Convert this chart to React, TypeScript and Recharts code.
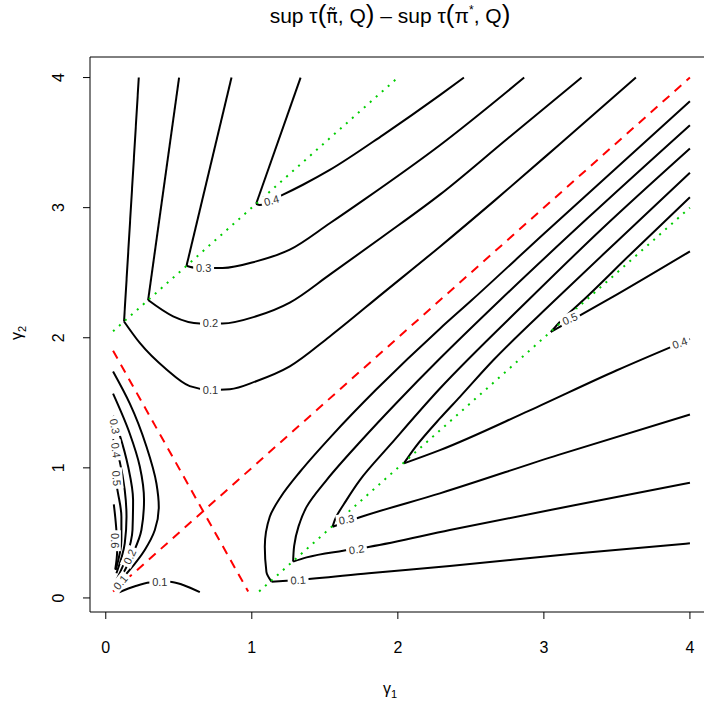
import React from 'react';
import { ComposedChart, Line, XAxis, YAxis, Scatter, ReferenceArea } from 'recharts';

type Pt = { x: number; y: number };
const pts = (a: number[][]): Pt[] => a.map(([x, y]) => ({ x, y }));

const X_TICKS = [0, 1, 2, 3, 4];
const Y_TICKS = [0, 1, 2, 3, 4];
const DOMAIN: [number, number] = [-0.108, 4.158];

// upper-left family (left arms straight to corner, right arms curving)
const ul1Left = pts([[0.226, 4], [0.125, 2.125]]);
const ul2Left = pts([[0.502, 4], [0.29, 2.29]]);
const ul3Left = pts([[0.861, 4], [0.553, 2.553]]);
const ul4Left = pts([[1.334, 4], [1.03, 3.03]]);
const ul1Right = pts([[0.125, 2.125], [0.233, 1.96], [0.416, 1.756], [0.575, 1.628], [0.717, 1.6], [0.85, 1.605], [1.03, 1.666], [1.26, 1.78], [1.534, 2.01], [1.9, 2.345], [2.288, 2.7], [2.664, 3.056], [3.1, 3.48], [3.63, 4]]);
const ul2Right = pts([[0.29, 2.29], [0.461, 2.165], [0.644, 2.11], [0.8, 2.11], [1.03, 2.165], [1.26, 2.27], [1.534, 2.485], [1.9, 2.78], [2.288, 3.1], [2.75, 3.53], [3.258, 4]]);
const ul3Right = pts([[0.553, 2.553], [0.62, 2.536], [0.8, 2.536], [1.03, 2.587], [1.26, 2.677], [1.534, 2.88], [1.762, 3.056], [2.288, 3.48], [2.865, 4]]);
const ul4Right = pts([[1.03, 3.03], [1.055, 3.02], [1.214, 3.1], [1.35, 3.176], [1.534, 3.29], [1.9, 3.56], [2.288, 3.865], [2.452, 4]]);

// lower-right family
const lr1Up = pts([[1.135, 0.125], [1.1, 0.2], [1.089, 0.394], [1.123, 0.624], [1.2, 0.78], [1.33, 0.97], [1.55, 1.25], [1.85, 1.6], [2.288, 2.07], [2.505, 2.288], [3.0, 2.8], [4, 3.817]]);
const lr2Up = pts([[1.283, 0.279], [1.29, 0.4], [1.32, 0.55], [1.375, 0.7], [1.512, 0.906], [1.75, 1.21], [2.0, 1.51], [2.288, 1.84], [2.699, 2.288], [3.3, 2.92], [4, 3.634]]);
const lr3Up = pts([[1.553, 0.547], [1.568, 0.599], [1.648, 0.752], [1.74, 0.906], [1.95, 1.18], [2.288, 1.61], [2.892, 2.288], [3.4, 2.84], [4, 3.455]]);
const lr4Up = pts([[2.041, 1.034], [2.12, 1.16], [2.288, 1.38], [2.425, 1.546], [2.653, 1.827], [3.075, 2.288], [3.5, 2.74], [4, 3.268]]);
const lr5Up = pts([[3.048, 2.045], [3.098, 2.109], [3.269, 2.288], [3.6, 2.65], [4, 3.08]]);
const lr1Right = pts([[1.135, 0.125], [1.317, 0.138], [1.8, 0.19], [2.356, 0.246], [3.2, 0.34], [4, 0.42]]);
const lr2Right = pts([[1.283, 0.279], [1.375, 0.312], [1.625, 0.363], [1.808, 0.394], [2.356, 0.522], [3.2, 0.71], [4, 0.885]]);
const lr3Right = pts([[1.553, 0.547], [1.74, 0.62], [2.288, 0.804], [3.1, 1.1], [4, 1.41]]);
const lr4Right = pts([[2.041, 1.034], [2.288, 1.136], [2.9, 1.44], [3.5, 1.75], [4, 1.99]]);
const lr5Right = pts([[3.048, 2.045], [3.45, 2.3], [4, 2.664]]);

// near the origin
const llArc = pts([[0.091, 0.044], [0.2, 0.09], [0.301, 0.118], [0.438, 0.125], [0.53, 0.1], [0.644, 0.044]]);
const lc1 = pts([[0.084, 0.113], [0.164, 0.215], [0.267, 0.369], [0.336, 0.522], [0.363, 0.7], [0.347, 0.88], [0.279, 1.162], [0.164, 1.495], [0.05, 1.74]]);
const lc2 = pts([[0.107, 0.164], [0.187, 0.343], [0.244, 0.522], [0.262, 0.752], [0.233, 1.01], [0.164, 1.264], [0.05, 1.57]]);
const lc3 = pts([[0.073, 0.138], [0.142, 0.317], [0.183, 0.522], [0.187, 0.752], [0.153, 1.01], [0.096, 1.25], [0.05, 1.4]]);
const lc4 = pts([[0.073, 0.19], [0.13, 0.42], [0.142, 0.624], [0.13, 0.829], [0.096, 1.046], [0.05, 1.22]]);
const lc5 = pts([[0.068, 0.215], [0.107, 0.445], [0.107, 0.624], [0.084, 0.804], [0.05, 0.99]]);
const lc6 = pts([[0.065, 0.22], [0.078, 0.36], [0.075, 0.48], [0.065, 0.62], [0.055, 0.72]]);

// reference lines
const redDiag = pts([[0.05, 0.05], [4, 4]]);
const redAnti = pts([[0.05, 1.9], [0.975, 0.05]]);
const greenUpper = pts([[0.05, 2.05], [2, 4]]);
const greenLower = pts([[1.05, 0.05], [4, 3]]);

// contour labels
const LABEL_TEXT = ['0.1', '0.2', '0.3', '0.4', '0.1', '0.2', '0.3', '0.5', '0.4', '0.1', '0.3', '0.4', '0.5', '0.6', '0.2', '0.1'];
const LABEL_X = [0.717, 0.717, 0.67, 1.135, 1.317, 1.717, 1.648, 3.178, 3.93, 0.37, 0.062, 0.07, 0.075, 0.062, 0.164, 0.1];
const LABEL_Y = [1.6, 2.11, 2.536, 3.056, 0.138, 0.374, 0.604, 2.147, 1.96, 0.125, 1.32, 1.136, 0.92, 0.44, 0.317, 0.12];
const LABEL_ANGLE = [0, 0, 0, -15, -4, -9, -10, -24, -20, 0, 80, 82, 85, 90, -65, -50];

const labelData = LABEL_TEXT.map((t, i) => ({ x: LABEL_X[i], y: LABEL_Y[i], text: t, angle: LABEL_ANGLE[i] }));

const FONT = '"Liberation Sans", Arial, Helvetica, sans-serif';

const linearSet = [ul1Left, ul2Left, ul3Left, ul4Left];
const monoXSet = [ul1Right, ul2Right, ul3Right, ul4Right, lr1Right, lr2Right, lr3Right, lr4Right, lr5Right, llArc];
const monoYSet = [lr1Up, lr2Up, lr3Up, lr4Up, lr5Up, lc1, lc2, lc3, lc4, lc5, lc6];

const XTick = (props: any) => {
  const { x, y, payload } = props;
  return (
    <text x={x} y={y + 32} textAnchor="middle" fontSize={16} fontFamily={FONT} fill="#000">
      {payload.value}
    </text>
  );
};

const YTick = (props: any) => {
  const { x, y, payload } = props;
  return (
    <text transform={`translate(${x - 17},${y}) rotate(-90)`} textAnchor="middle" fontSize={16} fontFamily={FONT} fill="#000">
      {payload.value}
    </text>
  );
};

const ContourLabel = (props: any) => {
  const { cx, cy, payload } = props;
  if (cx == null || cy == null) return null;
  const w = payload.text.length * 6.3 + 2;
  return (
    <g transform={`translate(${cx},${cy}) rotate(${payload.angle})`}>
      <rect x={-w / 2} y={-6} width={w} height={12} fill="#fff" />
      <text x={0} y={4} textAnchor="middle" fontSize={11} fontFamily={FONT} fill="#333">
        {payload.text}
      </text>
    </g>
  );
};

export default function App() {
  let k = 0;
  const mk = (d: Pt[], type: any, stroke = '#000', dash?: string) => (
    <Line
      key={`l${k++}`}
      data={d}
      dataKey="y"
      type={type}
      stroke={stroke}
      strokeWidth={2}
      strokeDasharray={dash}
      dot={false}
      activeDot={false}
      isAnimationActive={false}
      legendType="none"
    />
  );
  const P = 26;
  return (
    <div style={{ position: 'absolute', left: 0, top: 0, width: 704, height: 708, overflow: 'hidden', background: '#fff' }}>
      <ComposedChart width={720} height={708} margin={{ top: 57, right: 7, bottom: 56, left: 40 }}>
        <XAxis
          type="number"
          dataKey="x"
          domain={DOMAIN}
          ticks={X_TICKS}
          allowDataOverflow
          axisLine={false}
          tickLine={{ stroke: '#000' }}
          tickSize={7}
          height={40}
          tick={<XTick />}
          interval={0}
        />
        <YAxis
          type="number"
          dataKey="y"
          domain={DOMAIN}
          ticks={Y_TICKS}
          allowDataOverflow
          axisLine={false}
          tickLine={{ stroke: '#000' }}
          tickSize={7}
          width={50}
          tick={<YTick />}
          interval={0}
        />
        <ReferenceArea x1={DOMAIN[0]} x2={DOMAIN[1]} y1={DOMAIN[0]} y2={DOMAIN[1]} fill="#fff" fillOpacity={0} stroke="#000" strokeWidth={1} ifOverflow="visible" />
        {linearSet.map((d) => mk(d, 'linear'))}
        {monoXSet.map((d) => mk(d, 'monotone'))}
        {monoYSet.map((d) => mk(d, 'monotoneY'))}
        {mk(redDiag, 'linear', '#ff0000', '9 7')}
        {mk(redAnti, 'linear', '#ff0000', '9 7')}
        {mk(greenUpper, 'linear', '#00cd00', '2 6')}
        {mk(greenLower, 'linear', '#00cd00', '2 6')}
        <Scatter data={labelData} shape={<ContourLabel />} isAnimationActive={false} legendType="none" />
      </ComposedChart>
      <svg width={704} height={708} style={{ position: 'absolute', left: 0, top: 0, pointerEvents: 'none' }}>
        <text x={390} y={23} textAnchor="middle" fontSize={21} fontFamily={FONT} fill="#000">
          sup τ<tspan fontSize={P}>(</tspan><tspan fontFamily='"DejaVu Sans", sans-serif' fontSize={19}>π̃</tspan>, Q<tspan fontSize={P}>)</tspan>
          <tspan> – </tspan>sup τ<tspan fontSize={P}>(</tspan>π<tspan fontSize={12} dy={-9}>*</tspan><tspan dy={9}>, Q</tspan><tspan fontSize={P}>)</tspan>
        </text>
        <text x={390} y={694} textAnchor="middle" fontSize={16} fontFamily={FONT} fill="#000">
          γ<tspan fontSize={11} dy={4}>1</tspan>
        </text>
        <text transform="translate(22,333) rotate(-90)" textAnchor="middle" fontSize={16} fontFamily={FONT} fill="#000">
          γ<tspan fontSize={11} dy={4}>2</tspan>
        </text>
      </svg>
    </div>
  );
}
